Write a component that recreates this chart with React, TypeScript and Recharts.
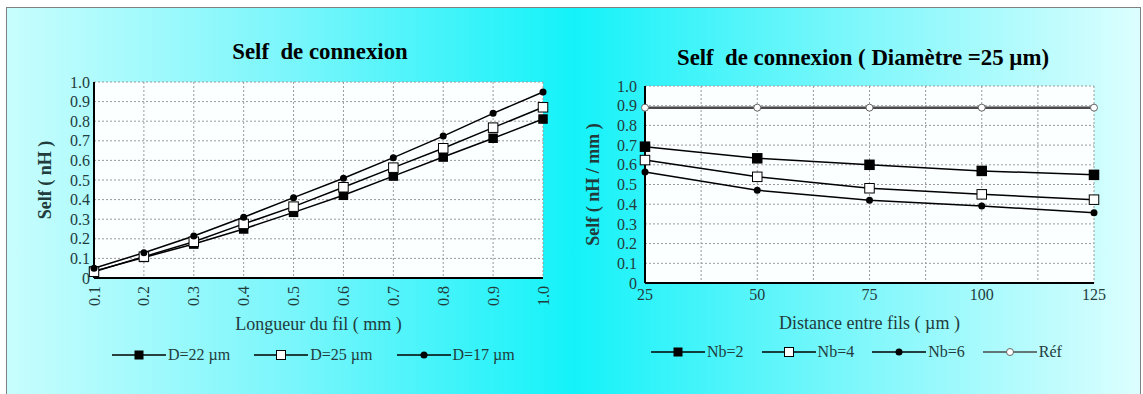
import { LineChart, Line, XAxis, YAxis, CartesianGrid } from 'recharts'

const FONT = '"Liberation Serif", "Times New Roman", serif'
const TXT = '#223c3c'

// left chart: inductance vs wire length
const lengths = [0.1, 0.2, 0.3, 0.4, 0.5, 0.6, 0.7, 0.8, 0.9, 1.0]
const d22 = [0.035, 0.105, 0.173, 0.25, 0.335, 0.422, 0.52, 0.617, 0.713, 0.811]
const d25 = [0.032, 0.109, 0.185, 0.276, 0.364, 0.463, 0.563, 0.662, 0.767, 0.871]
const d17 = [0.05, 0.129, 0.214, 0.31, 0.41, 0.509, 0.614, 0.724, 0.84, 0.949]

// right chart: inductance per mm vs distance between wires
const distances = [25, 50, 75, 100, 125]
const nb2 = [0.692, 0.633, 0.6, 0.569, 0.549]
const nb4 = [0.624, 0.539, 0.481, 0.45, 0.423]
const nb6 = [0.563, 0.471, 0.42, 0.391, 0.357]
const ref = [0.89, 0.89, 0.89, 0.89, 0.89]

const yTicks = [0, 0.1, 0.2, 0.3, 0.4, 0.5, 0.6, 0.7, 0.8, 0.9, 1.0]
const distGrid = [25, 37.5, 50, 62.5, 75, 87.5, 100, 112.5, 125]

const leftData = lengths.map((x, i) => ({ x, d22: d22[i], d25: d25[i], d17: d17[i] }))
const rightData = distances.map((x, i) => ({ x, nb2: nb2[i], nb4: nb4[i], nb6: nb6[i], ref: ref[i] }))

type Marker = 'fsq' | 'osq' | 'dot' | 'odot'

function markerShape(kind: Marker, cx: number, cy: number, size: number, key?: string) {
  if (kind === 'fsq') return <rect key={key} x={cx - size / 2} y={cy - size / 2} width={size} height={size} fill="#000" />
  if (kind === 'osq')
    return <rect key={key} x={cx - size / 2} y={cy - size / 2} width={size} height={size} fill="#fff" stroke="#000" strokeWidth={1} />
  if (kind === 'dot') return <circle key={key} cx={cx} cy={cy} r={size / 2} fill="#000" />
  return <circle key={key} cx={cx} cy={cy} r={size / 2} fill="#fff" stroke="#666" strokeWidth={1} />
}

const dotFn = (kind: Marker, size: number) => (p: any) => markerShape(kind, p.cx, p.cy, size, `${kind}-${p.index}`)

const fmtY = (v: number) => (v === 0 ? '0' : v.toFixed(1))

function RotTick(props: any) {
  const { x, y, payload } = props
  return (
    <text
      x={x}
      y={y}
      transform={`rotate(-90 ${x} ${y})`}
      textAnchor="end"
      dominantBaseline="central"
      fontFamily={FONT}
      fontSize={16}
      fill={TXT}
    >
      {Number(payload.value).toFixed(1)}
    </text>
  )
}

type LegendItem = { name: string; kind: Marker; size: number; stroke: string }

function LegendRow({ items, left, top, gap }: { items: LegendItem[]; left: number; top: number; gap: number }) {
  return (
    <div style={{ position: 'absolute', left, top, display: 'flex', alignItems: 'center', gap, fontFamily: FONT, fontSize: 16, color: TXT }}>
      {items.map((it) => (
        <div key={it.name} style={{ display: 'flex', alignItems: 'center' }}>
          <svg width={54} height={14}>
            <line x1={0} y1={7} x2={54} y2={7} stroke={it.stroke} strokeWidth={1.5} />
            {markerShape(it.kind, 27, 7, it.size)}
          </svg>
          <span style={{ marginLeft: 2 }}>{it.name}</span>
        </div>
      ))}
    </div>
  )
}

const titleStyle = {
  position: 'absolute' as const,
  fontFamily: FONT,
  fontWeight: 700,
  fontSize: 22.8,
  color: '#000',
  whiteSpace: 'nowrap' as const,
  transform: 'translate(-50%, -50%)',
}

const tickStyle = { fontFamily: FONT, fontSize: 16, fill: TXT }

function App() {
  return (
    <div style={{ position: 'absolute', left: 0, top: 0, width: 1143, height: 394, overflow: 'hidden', background: '#fff' }}>
      <div
        style={{
          position: 'absolute',
          left: 6,
          top: 7,
          width: 1133,
          height: 400,
          borderTop: '1px solid #808080',
          borderLeft: '1px solid #808080',
          borderRight: '1px solid #808080',
          background: 'linear-gradient(90deg, #c8fdfd 0%, #7af6fb 25%, #14f2f9 50%, #7ef7fb 75%, #dcfefe 100%)',
        }}
      />

      <div style={{ ...titleStyle, left: 320, top: 52 }}>Self&nbsp; de connexion</div>
      <div style={{ ...titleStyle, left: 863, top: 58 }}>Self&nbsp; de connexion ( Diamètre =25 µm)</div>

      <div style={{ position: 'absolute', left: 0, top: 0 }}>
        <LineChart width={560} height={394} data={leftData} margin={{ top: 82, right: 17, bottom: 61, left: 14 }}>
          <CartesianGrid stroke="#9a9a9a" strokeDasharray="2 2" fill="#fbffff" />
          <XAxis
            dataKey="x"
            type="number"
            domain={[0.1, 1.0]}
            ticks={lengths}
            interval={0}
            tick={<RotTick />}
            tickLine={false}
            axisLine={{ stroke: '#000', strokeWidth: 2 }}
            height={55}
            label={{ value: 'Longueur du fil  ( mm )', position: 'insideBottom', offset: 3, fontFamily: FONT, fontSize: 18, fill: TXT }}
          />
          <YAxis
            type="number"
            domain={[0, 1]}
            ticks={yTicks}
            interval={0}
            tickFormatter={fmtY}
            tickLine={false}
            tickSize={2}
            tickMargin={2}
            axisLine={{ stroke: '#000', strokeWidth: 2 }}
            width={80}
            tick={tickStyle}
            label={{
              value: 'Self  ( nH )',
              angle: -90,
              position: 'insideLeft',
              offset: 31,
              style: { textAnchor: 'middle' },
              fontFamily: FONT,
              fontWeight: 700,
              fontSize: 18,
              fill: TXT,
            }}
          />
          <Line dataKey="d22" stroke="#000" strokeWidth={1.5} dot={dotFn('fsq', 9.5)} isAnimationActive={false} />
          <Line dataKey="d25" stroke="#000" strokeWidth={1.5} dot={dotFn('osq', 9.5)} isAnimationActive={false} />
          <Line dataKey="d17" stroke="#000" strokeWidth={1.5} dot={dotFn('dot', 7)} isAnimationActive={false} />
        </LineChart>
      </div>

      <div style={{ position: 'absolute', left: 570, top: 0 }}>
        <LineChart width={560} height={394} data={rightData} margin={{ top: 86, right: 36, bottom: 56, left: 0 }}>
          <CartesianGrid stroke="#9a9a9a" strokeDasharray="2 2" fill="#fbffff" />
          <XAxis
            dataKey="x"
            type="number"
            domain={[25, 125]}
            ticks={distGrid}
            interval={0}
            tickFormatter={(v: number) => (v % 25 === 0 ? String(v) : '')}
            tickLine={false}
            tickMargin={0}
            axisLine={{ stroke: '#000', strokeWidth: 2 }}
            height={55}
            tick={tickStyle}
            label={{ value: 'Distance entre fils ( µm )', position: 'insideBottom', offset: 9, fontFamily: FONT, fontSize: 18, fill: TXT }}
          />
          <YAxis
            type="number"
            domain={[0, 1]}
            ticks={yTicks}
            interval={0}
            tickFormatter={fmtY}
            tickLine={false}
            tickSize={5}
            tickMargin={3}
            axisLine={{ stroke: '#000', strokeWidth: 2 }}
            width={75}
            tick={tickStyle}
            label={{
              value: 'Self  ( nH / mm )',
              angle: -90,
              position: 'insideLeft',
              offset: 23,
              style: { textAnchor: 'middle' },
              fontFamily: FONT,
              fontWeight: 700,
              fontSize: 18,
              fill: TXT,
            }}
          />
          <Line dataKey="ref" stroke="#4a4a4a" strokeWidth={2.5} dot={dotFn('odot', 7)} isAnimationActive={false} />
          <Line dataKey="nb2" stroke="#000" strokeWidth={1.5} dot={dotFn('fsq', 10.5)} isAnimationActive={false} />
          <Line dataKey="nb4" stroke="#000" strokeWidth={1.5} dot={dotFn('osq', 9.5)} isAnimationActive={false} />
          <Line dataKey="nb6" stroke="#000" strokeWidth={1.5} dot={dotFn('dot', 7)} isAnimationActive={false} />
        </LineChart>
      </div>

      <LegendRow
        left={112}
        top={346}
        gap={24}
        items={[
          { name: 'D=22 µm', kind: 'fsq', size: 9, stroke: '#000' },
          { name: 'D=25 µm', kind: 'osq', size: 9, stroke: '#000' },
          { name: 'D=17 µm', kind: 'dot', size: 7, stroke: '#000' },
        ]}
      />
      <LegendRow
        left={651}
        top={343}
        gap={18}
        items={[
          { name: 'Nb=2', kind: 'fsq', size: 9, stroke: '#000' },
          { name: 'Nb=4', kind: 'osq', size: 9, stroke: '#000' },
          { name: 'Nb=6', kind: 'dot', size: 7, stroke: '#000' },
          { name: 'Réf', kind: 'odot', size: 7, stroke: '#4a4a4a' },
        ]}
      />
    </div>
  )
}

export default App
